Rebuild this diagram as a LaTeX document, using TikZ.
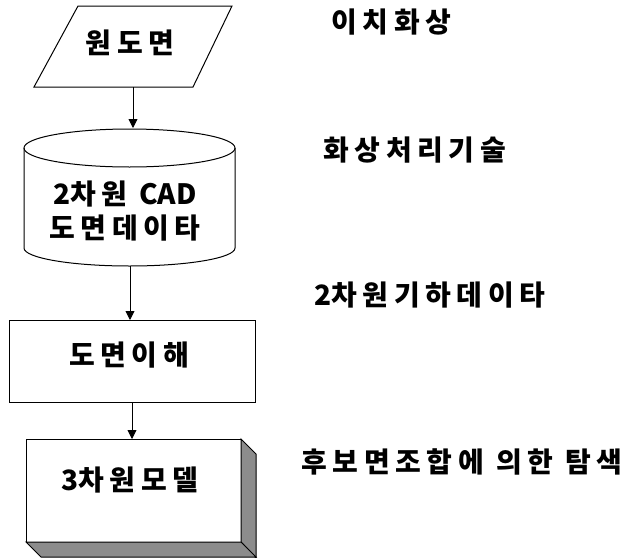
\documentclass[tikz,border=0pt]{standalone}
\usepackage{fontspec}
\newfontfamily\kr{Noto Sans CJK KR}[LetterSpace=20]
\newfontfamily\krplain{Noto Sans CJK KR}
\usetikzlibrary{arrows.meta,patterns}
\begin{document}
\begin{tikzpicture}[x=1pt,y=-1pt,
  line width=1pt,
  lbl/.style={font=\kr\bfseries\fontsize{28}{32}\selectfont, inner sep=0pt},
  anchorbox/.style={inner sep=0pt, outer sep=0pt},
  frame/.style={draw, line width=1pt, inner sep=0pt, outer sep=0pt},
  arr/.style={-{Triangle[length=9pt,width=9pt]}, line width=0.9pt},
  shade3d/.style={draw, line width=1pt, fill=black!45}
]
\useasboundingbox (0,0) rectangle (629,557);

% source: parallelogram
\node[anchorbox, minimum width=154pt, minimum height=81pt] (src) at (133,46.5) {};
\draw (78,6) -- (232,6) -- (193,87) -- (34,87) -- cycle;
\node[lbl] (srct) at (130,43) {원도면};

% cylinder
\node[anchorbox, minimum width=211pt, minimum height=138pt] (cad) at (129.5,197) {};
\draw (24,148) -- (24,248) arc[start angle=180, end angle=360, x radius=105.5, y radius=-18] -- (235,148);
\draw (129.5,148) ellipse[x radius=105.5, y radius=19];
\node[lbl, align=center] (cadt) at (125,211) {{\krplain\bfseries 2}차원 {\krplain\bfseries CAD}\\[2pt]도면데이타};

% understanding rectangle
\node[frame, minimum width=246pt, minimum height=82pt] (und) at (132,361) {};
\node[lbl] (undt) at (129,355) {도면이해};

% 3D model box
\node[frame, fill=white, minimum width=215pt, minimum height=103pt] (model) at (133.5,490.5) {};
\draw[shade3d] (model.north east) -- ++(15,15) -- ++(0,104) -- (model.south east) -- cycle;
\draw[shade3d] (model.south west) -- (model.south east) -- ++(15,15) -- ++(-215,0) -- cycle;
\node[lbl] (modelt) at (130,480) {{\krplain\bfseries 3}차원모델};

% connectors
\draw[arr] (src.south) -- (src.south |- cad.north);
\draw[arr] (cad.south -| 130,0) -- (und.north -| 130,0);
\draw[arr] (und.south) -- (und.south |- model.north);

% right-hand labels
\node[lbl, anchor=west] (l1) at (331,22) {이치화상};
\node[lbl, anchor=west] (l2) at (323,150) {화상처리기술};
\node[lbl, anchor=west] (l3) at (314,295) {{\krplain\bfseries 2}차원기하데이타};
\node[lbl, anchor=west] (l4) at (301,462) {후보면조합에 의한 탐색};
\end{tikzpicture}
\end{document}
